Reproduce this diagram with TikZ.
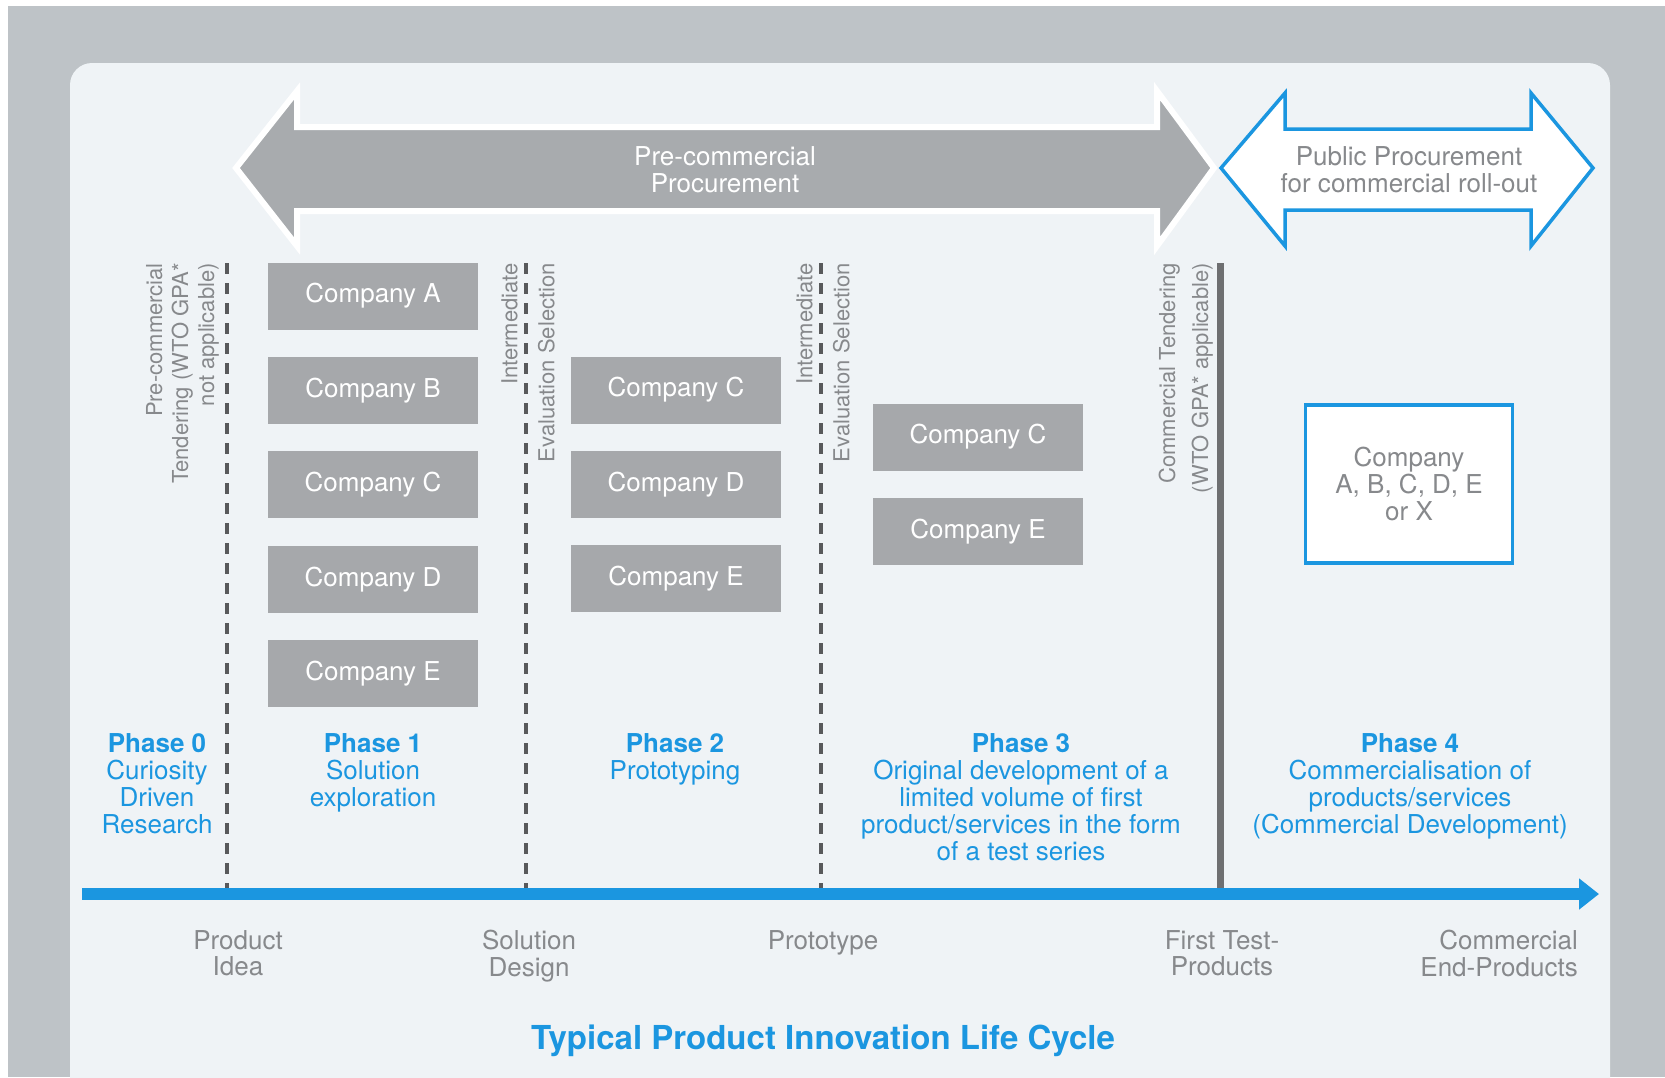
\documentclass[tikz,border=0pt]{standalone}
\usepackage{fontspec}
\setmainfont{TeX Gyre Heros}
\usepackage{xcolor}
\usetikzlibrary{arrows.meta,positioning}

\definecolor{bggray}{RGB}{190,195,199}
\definecolor{panelbg}{RGB}{239,243,246}
\definecolor{boxgray}{RGB}{166,168,171}
\definecolor{arrowgray}{RGB}{168,171,174}
\definecolor{procblue}{RGB}{27,150,224}
\definecolor{textgray}{RGB}{135,137,140}
\definecolor{linegray}{RGB}{88,89,91}
\definecolor{bargray}{RGB}{110,111,113}

\tikzset{
  companybox/.style={fill=boxgray, text=white, minimum width=210pt, minimum height=67pt,
    inner sep=0pt, font=\fontsize{26}{27}\selectfont},
  phaselabel/.style={text=procblue, align=center, anchor=north, inner sep=0pt,
    font=\fontsize{26}{27}\selectfont},
  milestone/.style={text=textgray, align=center, anchor=north, inner sep=0pt,
    font=\fontsize{26}{26.5}\selectfont},
  sidenote/.style={rotate=90, anchor=south east, align=right, inner sep=0pt,
    text=textgray, font=\fontsize{22}{26}\selectfont},
  gate/.style={linegray, line width=4pt, dash pattern=on 11pt off 9pt},
}

\begin{document}
\begin{tikzpicture}[x=1pt, y=-1pt]
        \useasboundingbox (0,0) rectangle (1665,1077);

        % Backdrop and panel
        \fill[bggray] (8,6) rectangle (1665,1077);
        \fill[panelbg, rounded corners=22pt] (70,63) rectangle (1610,1100);

        % Pre-commercial procurement (grey double arrow)
        \filldraw[fill=arrowgray, draw=white, line width=6pt, line join=miter]
          (236,168) -- (297,91) -- (297,127) -- (1157,127) -- (1157,91) -- (1214,168)
          -- (1157,246) -- (1157,211) -- (297,211) -- (297,246) -- cycle;
        \node[text=white, align=center, inner sep=0pt, font=\fontsize{26}{27}\selectfont]
          (pcp) at (725,170) {Pre-commercial\\Procurement};

        % Public procurement (outlined double arrow)
        \filldraw[fill=white, draw=procblue, line width=3.5pt, line join=miter]
          (1221,168) -- (1285,93) -- (1285,129) -- (1531,129) -- (1531,93) -- (1593,168)
          -- (1531,246) -- (1531,210) -- (1285,210) -- (1285,246) -- cycle;
        \node[text=textgray, align=center, inner sep=0pt, font=\fontsize{26}{27}\selectfont]
          (ppr) at (1409,170) {Public Procurement\\for commercial roll-out};

        % Phase boundaries
        \coordinate (g0top) at (227,263);  \coordinate (g0bot) at (227,888);
        \coordinate (g1top) at (526,263);  \coordinate (g1bot) at (526,888);
        \coordinate (g2top) at (821,263);  \coordinate (g2bot) at (821,888);
        \coordinate (ctop)  at (1220,263); \coordinate (cbot)  at (1220,888);
        \draw[gate] (g0top) -- (g0bot);
        \draw[gate] (g1top) -- (g1bot);
        \draw[gate] (g2top) -- (g2bot);
        \draw[bargray, line width=7pt] (ctop) -- (cbot);

        % Notes along the boundaries
        \node[sidenote] (pct) at (219,263) {Pre-commercial\\Tendering (WTO GPA*\\not applicable)};
        \node[sidenote, font=\fontsize{22}{37}\selectfont] (ies1) at (555,263)
          {Intermediate\\Evaluation Selection};
        \node[sidenote, font=\fontsize{22}{37}\selectfont] (ies2) at (850,263)
          {Intermediate\\Evaluation Selection};
        \node[sidenote, font=\fontsize{22}{33}\selectfont] (cten) at (1213,263)
          {Commercial Tendering\\(WTO GPA* applicable)};

        % Phase 1 companies
        \node[companybox] (a1) at (373,296) {Company A};
        \node[companybox, below=27pt of a1] (b1) {Company B};
        \node[companybox, below=27pt of b1] (c1) {Company C};
        \node[companybox, below=27pt of c1] (d1) {Company D};
        \node[companybox, below=27pt of d1] (e1) {Company E};

        % Phase 2 companies
        \node[companybox] (c2) at (676,390) {Company C};
        \node[companybox, below=27pt of c2] (d2) {Company D};
        \node[companybox, below=27pt of d2] (e2) {Company E};

        % Phase 3 companies
        \node[companybox] (c3) at (978,437) {Company C};
        \node[companybox, below=27pt of c3] (e3) {Company E};

        % Phase 4 supplier
        \node[draw=procblue, line width=3.5pt, fill=white, minimum width=207pt,
          minimum height=158pt, align=center, text=textgray,
          font=\fontsize{26}{27}\selectfont] (winner) at (1409,484)
          {Company\\A, B, C, D, E\\or X};

        % Phase captions
        \node[phaselabel] (ph0) at (157,733) {\textbf{Phase 0}\\Curiosity\\Driven\\Research};
        \node[phaselabel] (ph1) at (373,733) {\textbf{Phase 1}\\Solution\\exploration};
        \node[phaselabel] (ph2) at (675,733) {\textbf{Phase 2}\\Prototyping};
        \node[phaselabel] (ph3) at (1021,733) {\textbf{Phase 3}\\Original development of a\\
          limited volume of first\\product/services in the form\\of a test series};
        \node[phaselabel] (ph4) at (1410,733) {\textbf{Phase 4}\\Commercialisation of\\
          products/services\\(Commercial Development)};

        % Time line
        \coordinate (tl0) at (82,894);
        \coordinate (tl1) at (1599,894);
        \draw[procblue, line width=12pt, -{Triangle[length=20pt,width=30pt]}] (tl0) -- (tl1);

        % Milestones
        \node[milestone] (m0) at (238,930) {Product\\Idea};
        \node[milestone] (m1) at (529,930) {Solution\\Design};
        \node[milestone] (m2) at (823,930) {Prototype};
        \node[milestone] (m3) at (1222,930) {First Test-\\Products};
        \node[milestone, anchor=north east, align=right] (m4) at (1578,930)
          {Commercial\\End-Products};

        \node[text=procblue, font=\bfseries\fontsize{33}{33}\selectfont] (title) at (823,1041)
          {Typical Product Innovation Life Cycle};
      \end{tikzpicture}
\end{document}
